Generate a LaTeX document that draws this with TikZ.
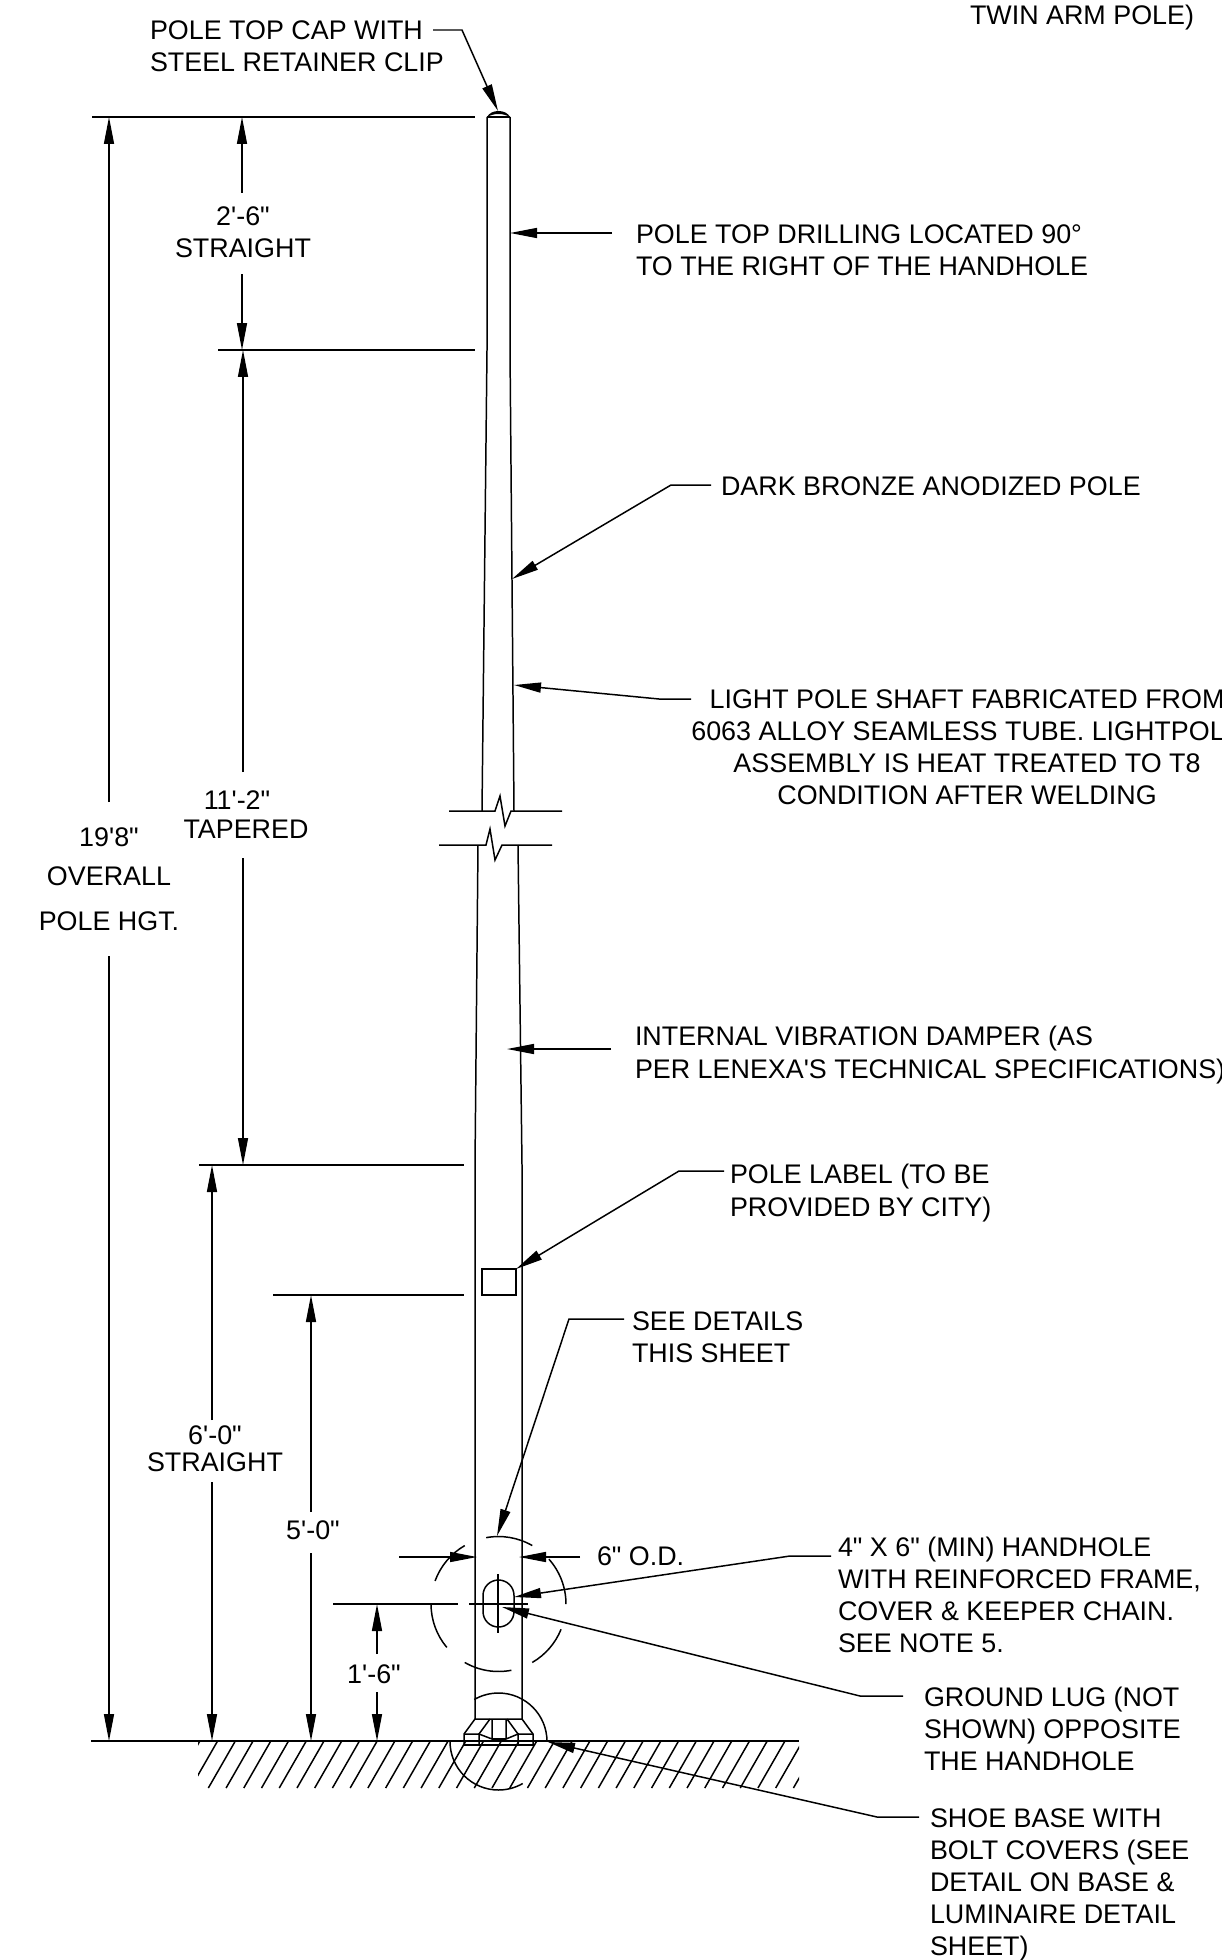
\documentclass[tikz,border=0pt]{standalone}
\usepackage{fontspec}
\setmainfont{Liberation Sans}[Ligatures=TeXOff]
\usetikzlibrary{arrows.meta, positioning, calc}

\begin{document}
\begin{tikzpicture}[
        x=0.02cm, y=-0.02cm,
        line width=0.85pt,
        >={Stealth[inset=0pt, length=0.54cm, width=0.2cm]},
        lbl/.style={font=\fontsize{15.3}{18.3}\selectfont, align=left, anchor=west, inner sep=0pt, outer sep=0pt},
        lblmid/.style={lbl, align=center, anchor=center},
        leader/.style={->, shorten <=#1}
    ]
        \useasboundingbox (0,0) rectangle (1221,1960);

        % Pole
        \draw (487,117) -- (487,350) -- (482,811);
        \draw (510,117) -- (510,350) -- (514,811);
        \draw (478,845) -- (475,1165) -- (475,1719);
        \draw (518,845) -- (522,1165) -- (522,1719);
        \fill (487,117) .. controls (491,109) and (506,109) .. (510,117) .. controls (503,113) and (494,113) .. (487,117);
        \draw (487,117) -- (510,117);

        % Break lines
        \draw (449,811) -- (495,811) -- (500,796) -- (505,826) -- (511,811) -- (562,811);
        \draw (439,845) -- (486,845) -- (490,829) -- (495,860) -- (502,845) -- (552,845);

        % Label plate and handhole
        \draw (482,1269) rectangle (516,1295);
        \draw[rounded corners=8.8pt] (483,1580) rectangle (514,1627);
        \draw (498,1574) -- (498,1633);
        \draw (469,1604) -- (528,1604);

        % Detail circles
        \coordinate (handdet) at (498.5,1604);
        \coordinate (basedet) at (498.5,1741.5);
        \foreach \a/\b in {60/100.5, 0/41.6, -60/-22, -120/-79, -180/-140, 120/160}
            \draw (handdet) ++(\a:1.35cm) arc[start angle=\a, end angle=\b, radius=1.35cm];
        \foreach \a/\b in {0/120, 180/300}
            \draw (basedet) ++(\a:0.97cm) arc[start angle=\a, end angle=\b, radius=0.97cm];

        % Shoe base
        \draw (475,1719) -- (522,1719) -- (533,1734) -- (533,1745) -- (464,1745) -- (464,1734) -- cycle;
        \draw (464,1734) -- (479,1734) -- (490,1719);
        \draw (533,1734) -- (518,1734) -- (507,1719);
        \draw (492,1719) -- (492,1739) -- (479,1734) -- (479,1745);
        \draw (506,1719) -- (506,1739) -- (518,1734) -- (518,1745);
        \draw (492,1739) -- (506,1739);
        \draw[line width=1.2pt] (464,1745) -- (533,1745);

        % Ground
        \draw (91,1741) -- (799,1741);
        \begin{scope}
            \clip (198,1741) rectangle (799,1788);
            \foreach \k in {-1,...,34}
                \draw ({217.6+17.73*\k},1741) -- ({217.6+17.73*\k-27},1788);
        \end{scope}

        % Extension lines
        \draw (92,117) -- (475,117);
        \draw (218,350) -- (475,350);
        \draw (199,1165) -- (464,1165);
        \draw (273,1295) -- (464,1295);
        \draw (333,1604) -- (458,1604);

        % Dimensions
        \node[lblmid] (overallA) at (109,837) {19'8"};
        \node[lblmid] (overallB) at (109,876) {OVERALL};
        \node[lblmid] (overallC) at (109,921) {POLE HGT.};
        \draw[->] (109,802) -- (109,117);
        \draw[->] (109,956) -- (109,1741);

        \node[lblmid] (straightA) at (243,232) {2'-6"\\STRAIGHT};
        \draw[->] (242,193) -- (242,117);
        \draw[->] (242,274) -- (242,350);

        \node[lblmid] (taperA) at (237,800) {11'-2"};
        \node[lblmid] (taperB) at (246,829) {TAPERED};
        \draw[->] (243,772) -- (243,350);
        \draw[->] (243,858) -- (243,1165);

        \node[lblmid] (straightB) at (215,1435) {6'-0"};
        \node[lblmid] (straightC) at (215,1462) {STRAIGHT};
        \draw[->] (212,1420) -- (212,1165);
        \draw[->] (212,1482) -- (212,1741);

        \node[lblmid] (fivefoot) at (313,1530) {5'-0"};
        \draw[->] (311,1512) -- (311,1295);
        \draw[->] (311,1553) -- (311,1741);

        \node[lblmid] (sixteen) at (374,1674) {1'-6"};
        \draw[->] (377,1654) -- (377,1604);
        \draw[->] (377,1692) -- (377,1741);

        \node[lbl] (odia) at (597,1556) {6" O.D.};
        \draw[->] (399,1557) -- (477,1557);
        \draw[->] (580,1557) -- (519,1557);

        % Callouts
        \node[lbl] (capl) at (150,46) {POLE TOP CAP WITH\\STEEL RETAINER CLIP};
        \coordinate (capk) at (462,30);
        \coordinate (capt) at (498,111);
        \draw[->] (433,30) -- (capk) -- (capt);

        \node[lbl] (drill) at (636,250) {POLE TOP DRILLING LOCATED 90°\\TO THE RIGHT OF THE HANDHOLE};
        \coordinate (drillt) at (510,233);
        \draw[leader=0.48cm] (drill.west |- drillt) -- (drillt);

        \node[lbl] (bronze) at (721,486) {DARK BRONZE ANODIZED POLE};
        \coordinate (bronzek) at (671,485);
        \coordinate (bronzet) at (512,579);
        \draw[leader=0.2cm] (bronze.west |- bronzek) -- (bronzek) -- (bronzet);

        \node[lblmid] (shaft) at (967,747) {LIGHT POLE SHAFT FABRICATED FROM\\6063 ALLOY SEAMLESS TUBE. LIGHTPOL\phantom{E}\\ASSEMBLY IS HEAT TREATED TO T8\\CONDITION AFTER WELDING};
        \coordinate (shaftk) at (659,699);
        \coordinate (shaftt) at (514,685);
        \draw[->] (691,699) -- (shaftk) -- (shaftt);

        \node[lbl] (damper) at (635,1055) {INTERNAL VIBRATION DAMPER (AS\\PER LENEXA'S TECHNICAL SPECIFICATIONS)};
        \coordinate (dampert) at (507,1049);
        \draw[leader=0.48cm] (damper.west |- dampert) -- (dampert);

        \node[lbl] (plate) at (730,1193) {POLE LABEL (TO BE\\PROVIDED BY CITY)};
        \coordinate (platek) at (679,1171);
        \coordinate (platet) at (516,1269);
        \draw[leader=0.12cm] (plate.west |- platek) -- (platek) -- (platet);

        \node[lbl] (details) at (632,1337) {SEE DETAILS\\THIS SHEET};
        \coordinate (detailsk) at (569,1319);
        \coordinate (detailst) at (497,1536);
        \draw[leader=0.16cm] (details.west |- detailsk) -- (detailsk) -- (detailst);

        \node[lbl] (handhole) at (838,1595) {4" X 6" (MIN) HANDHOLE\\WITH REINFORCED FRAME,\\COVER \& KEEPER CHAIN.\\SEE NOTE 5.};
        \coordinate (handk) at (790,1556);
        \coordinate (handt) at (514,1597);
        \draw[leader=0.14cm] (handhole.west |- handk) -- (handk) -- (handt);

        \node[lbl] (lug) at (924,1729) {GROUND LUG (NOT\\SHOWN) OPPOSITE\\THE HANDHOLE};
        \coordinate (lugk) at (860,1696);
        \coordinate (lugt) at (502,1607);
        \draw[leader=0.42cm] (lug.west |- lugk) -- (lugk) -- (lugt);

        \node[lbl] (shoe) at (930,1885) {SHOE BASE WITH\\BOLT COVERS (SEE\\DETAIL ON BASE \&\\LUMINAIRE DETAIL\\SHEET)};
        \coordinate (shoek) at (877,1817);
        \coordinate (shoet) at (548,1742);
        \draw[leader=0.22cm] (shoe.west |- shoek) -- (shoek) -- (shoet);

        \node[lblmid] (twin) at (1082,18) {TWIN ARM POLE)};
    \end{tikzpicture}
\end{document}
